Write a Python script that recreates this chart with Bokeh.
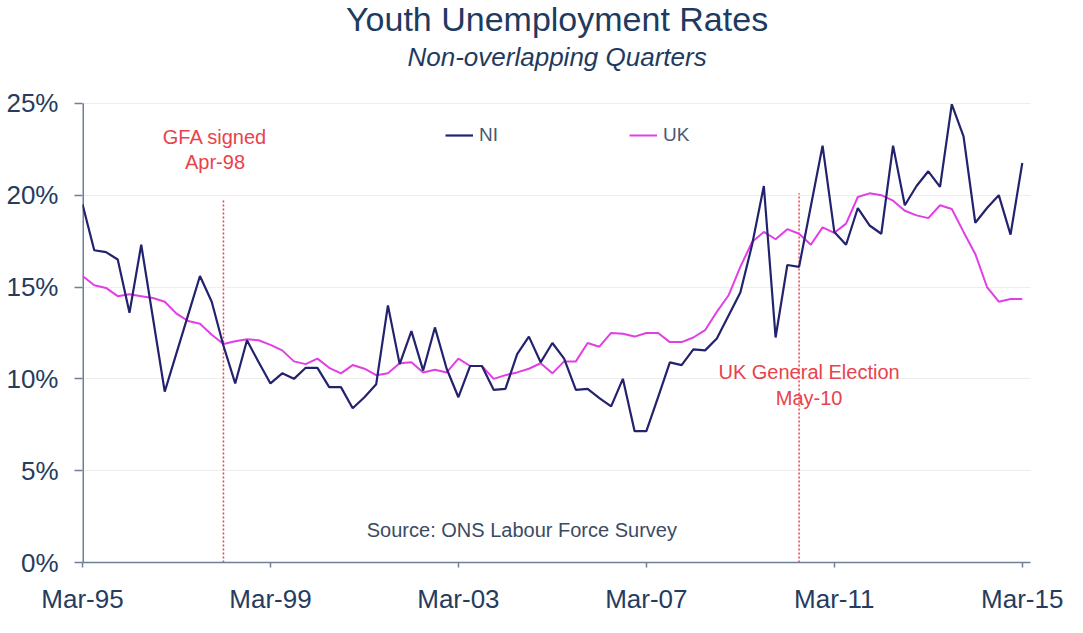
from bokeh.plotting import figure
from bokeh.models import Range1d, FixedTicker, PrintfTickFormatter, Label, Legend, LegendItem, ColumnDataSource
from bokeh.embed import file_html
from bokeh.resources import INLINE

# ---- data (quarterly, Mar-95 .. Mar-15) ----
ni = [19.5, 17.0, 16.9, 16.5, 13.6, 17.3, 13.3, 9.3, 11.4, 13.5,
      15.6, 14.2, 11.8, 9.75, 12.1, 10.9, 9.75, 10.3, 10.0, 10.6,
      10.6, 9.55, 9.55, 8.4, 9.0, 9.7, 14.0, 10.8, 12.6, 10.45,
      12.8, 10.55, 9.0, 10.7, 10.7, 9.4, 9.45, 11.35, 12.3, 10.9,
      11.95, 11.1, 9.4, 9.45, 8.95, 8.5, 10.0, 7.15, 7.15, 9.0,
      10.9, 10.75, 11.6, 11.55, 12.2, 13.45, 14.7, 17.3, 20.5, 12.25,
      16.2, 16.1, 19.4, 22.7, 18.0, 17.3, 19.3, 18.35, 17.9, 22.7,
      19.45, 20.5, 21.3, 20.45, 24.95, 23.2, 18.5, 19.3, 20.0, 17.85,
      21.75]
uk = [15.6, 15.1, 14.95, 14.5, 14.6, 14.5, 14.4, 14.2, 13.55, 13.15,
      13.0, 12.4, 11.9, 12.05, 12.15, 12.1, 11.85, 11.55, 10.95, 10.8,
      11.1, 10.6, 10.3, 10.75, 10.55, 10.2, 10.3, 10.85, 10.9, 10.35,
      10.5, 10.35, 11.1, 10.7, 10.7, 10.0, 10.2, 10.35, 10.55, 10.85,
      10.3, 10.95, 10.95, 11.95, 11.75, 12.5, 12.45, 12.3, 12.5, 12.5,
      12.0, 12.0, 12.25, 12.65, 13.65, 14.55, 16.1, 17.45, 18.0, 17.6,
      18.15, 17.9, 17.3, 18.25, 17.95, 18.45, 19.9, 20.1, 20.0, 19.7,
      19.15, 18.9, 18.75, 19.45, 19.25, 18.0, 16.8, 15.0, 14.2, 14.35,
      14.35]
tick_quarters = [0, 16, 32, 48, 64, 80]
tick_labels = ["Mar-95", "Mar-99", "Mar-03", "Mar-07", "Mar-11", "Mar-15"]
y_ticks = [0, 5, 10, 15, 20, 25]
event_quarter = [12, 61]          # Apr-98 (GFA), May-10 (election)
event_top = [19.8, 20.1]

quarters = list(range(len(ni)))
y_max = y_ticks[-1]

NAVY = "#22226E"
MAGENTA = "#E23EE6"
TEXT = "#253C5E"
RED = "#E8434B"
AXIS = "#6F7F97"

# the frame reaches the top of the canvas so the title lines can sit inside it
p = figure(width=1064, height=616, output_backend="svg", toolbar_location=None, title=None,
           x_range=Range1d(0, 80.7), y_range=Range1d(0, 30.6),
           min_border_left=82, min_border_top=0, min_border_bottom=53, min_border_right=34)
p.outline_line_color = None
p.background_fill_color = "white"
p.border_fill_color = "white"

# grid
p.xgrid.grid_line_color = None
p.ygrid.grid_line_color = "#EDEDED"
p.ygrid.ticker = FixedTicker(ticks=y_ticks)

# axes
p.xaxis.ticker = FixedTicker(ticks=tick_quarters)
p.xaxis.major_label_overrides = {q: l for q, l in zip(tick_quarters, tick_labels)}
p.yaxis.ticker = FixedTicker(ticks=y_ticks)
p.yaxis.formatter = PrintfTickFormatter(format="%d%%")
for ax in (p.xaxis, p.yaxis):
    ax.axis_line_color = AXIS
    ax.axis_line_width = 1.5
    ax.major_tick_line_color = AXIS
    ax.major_tick_line_width = 1.5
    ax.minor_tick_line_color = None
    ax.major_tick_in = 0
    ax.major_label_text_color = TEXT
    ax.major_label_text_font = "Liberation Sans"
    ax.major_label_text_font_size = "26px"
p.xaxis.major_tick_out = 5
p.xaxis.major_label_standoff = 16
p.yaxis.major_tick_out = 8
p.yaxis.major_label_standoff = 16
p.yaxis.axis_line_color = None
# y axis line only from 0% to 25%
p.segment(x0=[0], y0=[0], x1=[0], y1=[y_max], line_color=AXIS, line_width=3)

# event lines
p.segment(x0=event_quarter, y0=[0] * len(event_quarter), x1=event_quarter, y1=event_top,
          line_color=RED, line_dash="2 2", line_width=1.5)

src = ColumnDataSource(dict(q=quarters, ni=ni, uk=uk))
r_uk = p.line("q", "uk", source=src, line_color=MAGENTA, line_width=2)
r_ni = p.line("q", "ni", source=src, line_color=NAVY, line_width=2.2)

legend = Legend(items=[LegendItem(label="NI", renderers=[r_ni]),
                       LegendItem(label="UK", renderers=[r_uk])],
                orientation="horizontal", location=(363, 416), spacing=130,
                glyph_width=28, glyph_height=20, label_standoff=6,
                padding=0, margin=0, border_line_alpha=0, background_fill_alpha=0,
                label_text_font="Liberation Sans", label_text_font_size="19px",
                label_text_color="#4A5A72")
p.add_layout(legend)

def lab(x, y, text, size, color, style="normal"):
    p.add_layout(Label(x=x, y=y, text=text, text_align="center", text_baseline="middle",
                       text_font="Liberation Sans", text_font_size=size,
                       text_color=color, text_font_style=style))

lab(40.4, 29.57, "Youth Unemployment Rates", "34px", "#1F3A60")
lab(40.4, 27.5, "Non-overlapping Quarters", "26px", "#1F3A60", "italic")
lab(11.28, 23.15, "GFA signed", "20px", RED)
lab(11.28, 21.8, "Apr-98", "20px", RED)
lab(61.85, 10.38, "UK General Election", "20px", RED)
lab(61.85, 8.97, "May-10", "20px", RED)
lab(37.4, 1.79, "Source: ONS Labour Force Survey", "20px", "#3B4A63")

open("out.html", "w").write(file_html(p, INLINE))
